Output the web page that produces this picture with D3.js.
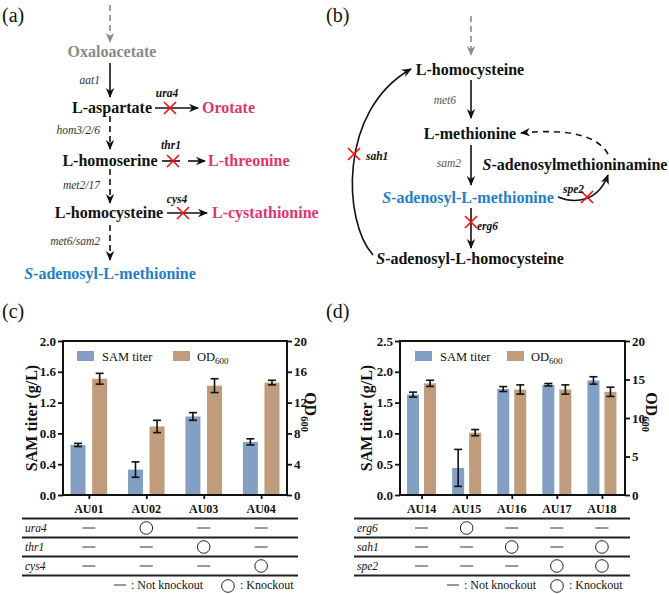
<!DOCTYPE html>
<html><head><meta charset="utf-8">
<script src="https://cdn.jsdelivr.net/npm/d3@7"></script>
<style>
body{margin:0;background:#fff;}
</style></head>
<body><svg id="fig" width="669" height="594" font-family="'Liberation Serif','Tinos','Times New Roman','DejaVu Serif',serif"></svg>
<script>
const FONT = "'Liberation Serif','Tinos','Times New Roman','DejaVu Serif',serif";
// ---------- DATA ----------
const catsC = ["AU01","AU02","AU03","AU04"];
const samC = [0.65, 0.33, 1.02, 0.69];
const samErrC = [0.02, 0.10, 0.05, 0.04];
const odC = [15.1, 8.9, 14.2, 14.6];
const odErrC = [0.7, 0.8, 0.9, 0.3];
const leftTicksC = [0, 0.4, 0.8, 1.2, 1.6, 2.0];
const rightTicksC = [0, 4, 8, 12, 16, 20];
const genesC = ["ura4","thr1","cys4"];
const koC = [[0,1,0,0],[0,0,1,0],[0,0,0,1]];

const catsD = ["AU14","AU15","AU16","AU17","AU18"];
const samD = [1.63, 0.44, 1.72, 1.79, 1.86];
const samErrD = [0.04, 0.30, 0.04, 0.02, 0.06];
const odD = [14.5, 8.1, 13.7, 13.7, 13.4];
const odErrD = [0.4, 0.4, 0.6, 0.6, 0.6];
const leftTicksD = [0, 0.5, 1.0, 1.5, 2.0, 2.5];
const rightTicksD = [0, 5, 10, 15, 20];
const genesD = ["erg6","sah1","spe2"];
const koD = [[0,1,0,0,0],[0,0,1,0,1],[0,0,0,1,1]];

const seriesNames = ["SAM titer","OD"];
const BLUE = "#839fc4", TAN = "#c19c7c";
const PINK = "#e0356f", SAMBLUE = "#1f80c8", GRAY = "#8a8a8a";

const svg = d3.select("#fig");
const defs = svg.append("defs");
function marker(id, color){
  defs.append("marker").attr("id",id).attr("viewBox","0 0 10 10")
    .attr("refX",9).attr("refY",5).attr("markerWidth",10).attr("markerHeight",10)
    .attr("markerUnits","userSpaceOnUse").attr("orient","auto")
    .append("path").attr("d","M0,0.8 L10,5 L0,9.2 L3,5 z").attr("fill",color);
}
marker("ah","#111"); marker("ahg",GRAY);

// panel labels
[["(a)",2,22],["(b)",326,22],["(c)",2,318],["(d)",326,318]].forEach(([t,x,y])=>{
  svg.append("text").attr("x",x).attr("y",y).attr("font-family",FONT).attr("font-size",20).attr("fill","#111").text(t);
});

function redX(g,x,y,s){
  s = s||6;
  g.append("path").attr("d",`M${x-s},${y-s}L${x+s},${y+s}M${x+s},${y-s}L${x-s},${y+s}`)
   .attr("stroke","#f01010").attr("stroke-width",1.6).attr("fill","none");
}
function line(g,x1,y1,x2,y2,opt){
  opt=opt||{};
  const l=g.append("line").attr("x1",x1).attr("y1",y1).attr("x2",x2).attr("y2",y2)
   .attr("stroke",opt.color||"#111").attr("stroke-width",opt.w||1.6);
  if(opt.dash) l.attr("stroke-dasharray",opt.dash);
  if(opt.arrow!==false) l.attr("marker-end",`url(#${opt.m||"ah"})`);
  return l;
}
function label(g,x,y,parts,opt){
  const t=g.append("text").attr("x",x).attr("y",y).attr("text-anchor",opt.anchor||"middle")
    .attr("font-family",FONT)
    .attr("font-size",opt.size||16).attr("font-weight",opt.weight||"bold").attr("fill",opt.color||"#111");
  if(opt.italic) t.attr("font-style","italic");
  parts.forEach(p=>{
    const s=t.append("tspan").text(p.t);
    if(p.i) s.attr("font-style","italic");
  });
  return t;
}

// ---------- PANEL (a) ----------
const ga = svg.append("g");
line(ga,110,5,110,42,{dash:"6,4",color:GRAY,m:"ahg"});
label(ga,112,57,[{t:"Oxaloacetate"}],{color:GRAY});
line(ga,110,63,110,97);
label(ga,100,84,[{t:"aat1"}],{anchor:"end",size:11.5,weight:"normal",italic:true,color:"#333"});
label(ga,112,113,[{t:"L-aspartate"}],{});
line(ga,155,108,198,108);
redX(ga,170,108);
label(ga,167,97,[{t:"ura4"}],{size:11.5,italic:true});
label(ga,202,113,[{t:"Orotate"}],{anchor:"start",color:PINK});
line(ga,110,116,110,149,{dash:"6,4"});
label(ga,100,134,[{t:"hom3/2/6"}],{anchor:"end",size:11.5,weight:"normal",italic:true,color:"#333"});
label(ga,110,166,[{t:"L-homoserine"}],{});
line(ga,162,161,180,161,{arrow:false});
line(ga,188,161,205,161);
redX(ga,173,161);
label(ga,171,149,[{t:"thr1"}],{size:11.5,italic:true});
label(ga,208,166,[{t:"L-threonine"}],{anchor:"start",color:PINK});
line(ga,110,169,110,203,{dash:"6,4"});
label(ga,100,189,[{t:"met2/17"}],{anchor:"end",size:11.5,weight:"normal",italic:true,color:"#333"});
label(ga,109,218,[{t:"L-homocysteine"}],{});
line(ga,167,213,207,213);
redX(ga,183,213);
label(ga,177,203,[{t:"cys4"}],{size:11.5,italic:true});
label(ga,212,218,[{t:"L-cystathionine"}],{anchor:"start",color:PINK});
line(ga,110,225,110,260,{dash:"6,4"});
label(ga,100,245,[{t:"met6/sam2"}],{anchor:"end",size:11.5,weight:"normal",italic:true,color:"#333"});
label(ga,110,279,[{t:"S",i:true},{t:"-adenosyl-L-methionine"}],{color:SAMBLUE});

// ---------- PANEL (b) ----------
const gb = svg.append("g");
line(gb,471,16,471,55,{dash:"6,4",color:GRAY,m:"ahg"});
label(gb,470,75,[{t:"L-homocysteine"}],{});
line(gb,471,80,471,118);
label(gb,456,104,[{t:"met6"}],{anchor:"end",size:11.5,weight:"normal",italic:true,color:"#555"});
label(gb,470,139,[{t:"L-methionine"}],{});
line(gb,471,145,471,185);
label(gb,461,167,[{t:"sam2"}],{anchor:"end",size:11.5,weight:"normal",italic:true,color:"#555"});
label(gb,575,170,[{t:"S",i:true},{t:"-adenosylmethioninamine"}],{});
label(gb,468,203,[{t:"S",i:true},{t:"-adenosyl-L-methionine"}],{color:SAMBLUE});
line(gb,471,208,471,248);
redX(gb,471,222);
label(gb,477,230,[{t:"erg6"}],{anchor:"start",size:11.5,italic:true});
label(gb,470,264,[{t:"S",i:true},{t:"-adenosyl-L-homocysteine"}],{});
gb.append("path").attr("d","M373,255 C343,222 338,110 411,69").attr("fill","none")
  .attr("stroke","#111").attr("stroke-width",1.6).attr("marker-end","url(#ah)");
redX(gb,354,154);
label(gb,366,160,[{t:"sah1"}],{anchor:"start",size:11.5,italic:true});
gb.append("path").attr("d","M608,154 Q592,126 521,133").attr("fill","none")
  .attr("stroke","#111").attr("stroke-width",1.6).attr("stroke-dasharray","6,5").attr("marker-end","url(#ah)");
gb.append("path").attr("d","M558,197 C575,204 598,202 608,175").attr("fill","none")
  .attr("stroke","#111").attr("stroke-width",1.6).attr("marker-end","url(#ah)");
redX(gb,587,197);
label(gb,563,193,[{t:"spe2"}],{anchor:"start",size:11.5,italic:true});

// ---------- BAR CHARTS ----------
function txt(g){ return g.append("text").attr("font-family",FONT).attr("fill","#111"); }
function barChart(cfg){
  const g = svg.append("g");
  const x = d3.scalePoint().domain(cfg.cats).range([cfg.x0,cfg.x1]).padding(cfg.pad);
  const yL = d3.scaleLinear().domain([0,cfg.maxL]).range([cfg.yb,cfg.yt]);
  const yR = d3.scaleLinear().domain([0,20]).range([cfg.yb,cfg.yt]);
  const bw = cfg.bw, off = cfg.off;
  const series = [
    {vals:cfg.sam, err:cfg.samErr, y:yL, color:BLUE, dx:-off},
    {vals:cfg.od, err:cfg.odErr, y:yR, color:TAN, dx:off}
  ];
  series.forEach(s=>{
    g.selectAll(null).data(cfg.cats).enter().append("rect")
      .attr("x",(d)=>x(d)+s.dx-bw/2).attr("width",bw)
      .attr("y",(d,i)=>s.y(s.vals[i])).attr("height",(d,i)=>cfg.yb-s.y(s.vals[i]))
      .attr("fill",s.color);
    cfg.cats.forEach((d,i)=>{
      const cx=x(d)+s.dx, v=s.vals[i], e=s.err[i];
      const eg=g.append("g").attr("stroke","#111").attr("stroke-width",1.6);
      eg.append("line").attr("x1",cx).attr("x2",cx).attr("y1",s.y(v-e)).attr("y2",s.y(v+e));
      eg.append("line").attr("x1",cx-4).attr("x2",cx+4).attr("y1",s.y(v-e)).attr("y2",s.y(v-e));
      eg.append("line").attr("x1",cx-4).attr("x2",cx+4).attr("y1",s.y(v+e)).attr("y2",s.y(v+e));
    });
  });
  // axes
  const axL = g.append("g").attr("transform",`translate(${cfg.ax0},0)`)
    .call(d3.axisLeft(yL).tickValues(cfg.lt).tickFormat(d3.format(".1f")).tickSize(5).tickSizeOuter(0));
  const axR = g.append("g").attr("transform",`translate(${cfg.ax1},0)`)
    .call(d3.axisRight(yR).tickValues(cfg.rt).tickFormat(d3.format("d")).tickSize(5).tickSizeOuter(0));
  const axB = g.append("g").attr("transform",`translate(0,${cfg.yb})`)
    .call(d3.axisBottom(x).tickSize(4).tickSizeOuter(0).tickFormat(""));
  [axL,axR,axB].forEach(a=>{
    a.attr("font-family",FONT);
    a.select(".domain").remove();
    a.selectAll("line").attr("stroke","#111").attr("stroke-width",1.8);
    a.selectAll("text").attr("font-family",FONT)
      .attr("font-size",13).attr("font-weight","bold").attr("fill","#111");
  });
  axL.selectAll("text").attr("x",-7);
  axR.selectAll("text").attr("x",7);
  // frame
  g.append("path").attr("d",`M${cfg.ax0},${cfg.yb}V${cfg.yt}H${cfg.ax1}V${cfg.yb}Z`)
    .attr("fill","none").attr("stroke","#111").attr("stroke-width",2);
  // category labels
  g.selectAll(null).data(cfg.cats).enter().append("text").attr("font-family",FONT)
    .attr("x",d=>x(d)).attr("y",cfg.yb+18).attr("text-anchor","middle")
    .attr("font-size",12).attr("font-weight","bold").attr("fill","#111").text(d=>d);
  // axis titles
  const yc=(cfg.yb+cfg.yt)/2;
  txt(g).attr("transform",`translate(${cfg.ltx},${yc}) rotate(-90)`)
    .attr("text-anchor","middle").attr("font-size",16).attr("font-weight","bold")
    .text("SAM titer (g/L)");
  const rt=txt(g).attr("transform",`translate(${cfg.rtx},${yc-6}) rotate(90)`)
    .attr("text-anchor","middle").attr("font-size",16).attr("font-weight","bold");
  rt.append("tspan").text("OD");
  rt.append("tspan").attr("font-size",10.5).attr("dy",4).text("600");
  // legend
  const ly=cfg.yt+10;
  g.append("rect").attr("x",cfg.lg[0]).attr("y",ly).attr("width",17).attr("height",10).attr("fill",BLUE);
  txt(g).attr("x",cfg.lg[0]+25).attr("y",ly+10).attr("font-size",12.5).text(seriesNames[0]);
  g.append("rect").attr("x",cfg.lg[1]).attr("y",ly).attr("width",17).attr("height",10).attr("fill",TAN);
  const lt=txt(g).attr("x",cfg.lg[1]+24).attr("y",ly+10).attr("font-size",12.5);
  lt.append("tspan").text(seriesNames[1]);
  lt.append("tspan").attr("font-size",9).attr("dy",3).text("600");
  // table
  const rows=[cfg.yb+23.5,cfg.yb+42.5,cfg.yb+61.5,cfg.yb+80.5];
  rows.forEach(ry=>g.append("line").attr("x1",cfg.t0).attr("x2",cfg.t1).attr("y1",ry).attr("y2",ry)
    .attr("stroke","#222").attr("stroke-width",1.8));
  cfg.genes.forEach((gn,r)=>{
    const cy=(rows[r]+rows[r+1])/2;
    txt(g).attr("x",cfg.t0+3).attr("y",cy+4).attr("font-size",11.5).attr("font-style","italic").text(gn);
    cfg.cats.forEach((c,j)=>{
      if(cfg.ko[r][j]){
        g.append("circle").attr("cx",x(c)).attr("cy",cy).attr("r",6.3).attr("fill","none")
          .attr("stroke","#222").attr("stroke-width",1);
      } else {
        g.append("line").attr("x1",x(c)-6.5).attr("x2",x(c)+6.5).attr("y1",cy).attr("y2",cy)
          .attr("stroke","#333").attr("stroke-width",1);
      }
    });
  });
  const by=cfg.yb+90;
  g.append("line").attr("x1",cfg.leg2[0]).attr("x2",cfg.leg2[0]+12).attr("y1",by).attr("y2",by)
    .attr("stroke","#333").attr("stroke-width",1);
  txt(g).attr("x",cfg.leg2[0]+17).attr("y",by+4).attr("font-size",12).text(": Not knockout");
  g.append("circle").attr("cx",cfg.leg2[1]).attr("cy",by+1).attr("r",6.3).attr("fill","none").attr("stroke","#222").attr("stroke-width",1);
  txt(g).attr("x",cfg.leg2[1]+12).attr("y",by+4).attr("font-size",12).text(": Knockout");
}

barChart({cats:catsC, sam:samC, samErr:samErrC, od:odC, odErr:odErrC, maxL:2.0,
  lt:leftTicksC, rt:rightTicksC, genes:genesC, ko:koC,
  x0:63, x1:287, pad:0.45, ax0:63, ax1:287, yb:495, yt:341, bw:15, off:10.8,
  ltx:37, rtx:305, lg:[77,173], t0:22, t1:298, leg2:[114,228]});
barChart({cats:catsD, sam:samD, samErr:samErrD, od:odD, odErr:odErrD, maxL:2.5,
  lt:leftTicksD, rt:rightTicksD, genes:genesD, ko:koD,
  x0:399, x1:624.5, pad:0.5, ax0:400, ax1:625, yb:495, yt:341, bw:12, off:8.5,
  ltx:372, rtx:646, lg:[415,507], t0:354, t1:630, leg2:[447,557]});
</script></body></html>
